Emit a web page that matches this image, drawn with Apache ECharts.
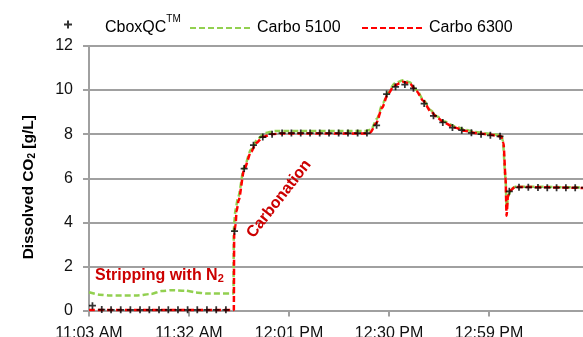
<!DOCTYPE html>
<html>
<head>
<meta charset="utf-8">
<script src="https://cdn.jsdelivr.net/npm/echarts@6/dist/echarts.min.js"></script>
<style>
  html, body { margin: 0; padding: 0; background: #fff; }
  #chart { width: 583px; height: 337px; }
</style>
</head>
<body>
<div id="chart"></div>
<script>
// minutes after 11:03 AM
var cboxTime = [1.0, 3.7, 6.4, 9.2, 12.0, 14.8, 17.5, 20.3, 23.0, 25.8, 28.6, 31.4, 34.2, 36.9, 39.7,
  42.2, 45.0, 47.7, 50.4, 53.1,
  56.0, 58.7, 61.4, 64.1, 66.9, 69.6, 72.4, 75.1, 77.9, 80.6,
  83.4, 86.3, 88.9, 91.6, 94.1, 97.2, 99.9, 102.6, 105.4, 108.1, 110.9, 113.7, 116.4, 119.2,
  121.9, 124.7, 127.4, 130.2, 132.9, 135.6, 138.3, 141.0, 143.7];
var cboxValue = [0.22, 0.04, 0.03, 0.03, 0.03, 0.03, 0.03, 0.03, 0.03, 0.03, 0.03, 0.03, 0.03, 0.03, 0.03,
  3.6, 6.44, 7.5, 7.87, 8.0,
  8.05, 8.05, 8.05, 8.05, 8.05, 8.05, 8.05, 8.05, 8.05, 8.05,
  8.4, 9.82, 10.15, 10.25, 10.08, 9.39, 8.83, 8.53, 8.3, 8.18, 8.06, 8.0, 7.95, 7.9,
  5.41, 5.59, 5.59, 5.58, 5.57, 5.57, 5.57, 5.57, 5.57];

var c5100Time = [0, 3, 6, 14, 18, 21, 24, 28, 31, 34, 41.9,
  42.0, 42.5, 43.2, 45, 47, 49, 51, 54, 80, 81.8,
  83.5, 85.2, 86.8, 88.6, 91, 93, 95, 97, 99, 101, 103, 106, 109, 112, 116, 119.6,
  120.0, 120.8, 121.1, 121.6, 122.4, 123.6, 126, 146];
var c5100Value = [0.83, 0.72, 0.68, 0.68, 0.75, 0.88, 0.92, 0.9, 0.82, 0.77, 0.77,
  3.8, 4.6, 5.1, 6.5, 7.3, 7.8, 8.05, 8.14, 8.14, 8.2,
  8.7, 9.4, 9.9, 10.3, 10.45, 10.35, 10.0, 9.55, 9.1, 8.8, 8.58, 8.36, 8.2, 8.1, 8.02, 7.95,
  7.7, 6.0, 4.7, 5.2, 5.5, 5.62, 5.62, 5.57];

var c6300Time = [0, 42.0,
  42.1, 42.5, 42.8, 43.4, 45, 47, 48.5, 50.5, 53, 56, 80, 81.6,
  83.3, 85, 86.6, 88.5, 91, 93, 95, 97, 99, 101, 103, 106, 109, 112, 116, 119.5,
  120.2, 120.8, 121.1, 121.5, 122.3, 123.5, 126, 146];
var c6300Value = [0.02, 0.02,
  3.5, 3.9, 4.5, 5.0, 6.4, 7.2, 7.6, 7.88, 8.0, 8.03, 8.03, 8.08,
  8.5, 9.2, 9.8, 10.2, 10.38, 10.3, 9.95, 9.5, 9.05, 8.75, 8.52, 8.3, 8.15, 8.05, 7.98, 7.9,
  7.6, 6.0, 4.3, 5.2, 5.45, 5.6, 5.6, 5.55];

var yTicks = [0, 2, 4, 6, 8, 10, 12];

function zip(a, b) {
  var out = [];
  for (var i = 0; i < a.length; i++) out.push([a[i], b[i]]);
  return out;
}

function timeLabel(v) {
  var t = 11 * 60 + 3 + v;
  var h = Math.floor(t / 60), m = t % 60;
  var ap = h >= 12 ? 'PM' : 'AM';
  var h12 = h > 12 ? h - 12 : h;
  return h12 + ':' + (m < 10 ? '0' : '') + m + ' ' + ap;
}

var plus = 'path://M3,0H5V3H8V5H5V8H3V5H0V3H3Z';
var font = 'Liberation Sans, Arial, sans-serif';
var gridColor = '#a0a0a0';
var annoColor = '#cc0000';

var dom = document.getElementById('chart');
var myChart = echarts.init(dom);
var option = {
  backgroundColor: '#fff',
  animation: false,
  textStyle: { fontFamily: font },
  legend: [{
    left: 59, top: 8,
    data: [{ name: 'CboxQC', icon: plus }],
    itemWidth: 8, itemHeight: 8,
    formatter: function () { return '{g|}{a|CboxQC}{t|TM}'; },
    textStyle: {
      rich: {
        g: { width: 28 },
        a: { fontSize: 16, color: '#000', lineHeight: 20, padding: [7, 0, 0, 0], fontFamily: font },
        t: { fontSize: 10, color: '#000', lineHeight: 12, padding: [0, 0, 10, 0], fontFamily: font }
      }
    }
  }, {
    left: 184, top: 13,
    data: ['Carbo 5100'],
    itemWidth: 62, itemHeight: 10,
    itemStyle: { opacity: 0 },
    textStyle: { fontSize: 16, color: '#000', lineHeight: 20 }
  }, {
    left: 356, top: 13,
    data: ['Carbo 6300'],
    itemWidth: 62, itemHeight: 10,
    itemStyle: { opacity: 0 },
    textStyle: { fontSize: 16, color: '#000', lineHeight: 20 }
  }],
  grid: { left: 89, top: 46, width: 500, bottom: 26.5, containLabel: false, outerBoundsMode: 'none' },
  xAxis: {
    type: 'value',
    min: 0, max: 145, interval: 29,
    axisLine: { show: true, lineStyle: { color: gridColor, width: 2 } },
    axisTick: { show: true, length: 6, lineStyle: { color: gridColor, width: 2 } },
    splitLine: { show: false },
    axisLabel: { formatter: timeLabel, fontSize: 16, color: '#111', margin: 15, showMaxLabel: false }
  },
  yAxis: {
    type: 'value',
    min: yTicks[0], max: yTicks[yTicks.length - 1], interval: 2,
    name: 'Dissolved CO{s|2} [g/L]',
    nameLocation: 'middle',
    nameRotate: 90,
    nameGap: 52,
    nameTextStyle: {
      fontSize: 15.5, fontWeight: 'bold', color: '#000',
      padding: [0, 18, 0, 0],
      rich: { s: { fontSize: 10, fontWeight: 'bold', verticalAlign: 'bottom', color: '#000' } }
    },
    axisLine: { show: true, lineStyle: { color: gridColor, width: 2 } },
    axisTick: { show: true, length: 6, lineStyle: { color: gridColor, width: 2 } },
    splitLine: { show: true, lineStyle: { color: gridColor, width: 2 } },
    axisLabel: { fontSize: 16, color: '#111', margin: 16 }
  },
  graphic: [{
    type: 'text',
    x: 95, y: 276,
    style: {
      text: '{a|Stripping with N}{s|2}',
      textVerticalAlign: 'middle',
      rich: {
        a: { fontSize: 16, fontWeight: 'bold', fill: annoColor, fontFamily: font },
        s: { fontSize: 11, fontWeight: 'bold', fill: annoColor, fontFamily: font, verticalAlign: 'bottom', padding: [6, 0, 0, 0] }
      }
    },
    z: 10
  }, {
    type: 'text',
    x: 279, y: 199,
    rotation: 52 * Math.PI / 180,
    style: {
      text: 'Carbonation',
      textAlign: 'center',
      textVerticalAlign: 'middle',
      fontSize: 16, fontWeight: 'bold', fill: annoColor, fontFamily: font
    },
    z: 10
  }],
  series: [{
    name: 'Carbo 5100',
    type: 'line',
    data: zip(c5100Time, c5100Value),
    symbol: 'none',
    smooth: 0.25,
    smoothMonotone: 'x',
    itemStyle: { color: '#92d050' },
    lineStyle: { color: '#92d050', width: 2.5, type: [6, 3] },
    z: 2
  }, {
    name: 'Carbo 6300',
    type: 'line',
    data: zip(c6300Time, c6300Value),
    symbol: 'none',
    smooth: 0.25,
    smoothMonotone: 'x',
    itemStyle: { color: '#ff0000' },
    lineStyle: { color: '#ff0000', width: 2.5, type: [6, 3] },
    z: 3
  }, {
    name: 'CboxQC',
    type: 'scatter',
    data: zip(cboxTime, cboxValue),
    symbol: plus,
    symbolSize: 7,
    itemStyle: { color: '#000' },
    z: 4
  }]
};
myChart.setOption(option, true);
</script>
</body>
</html>
